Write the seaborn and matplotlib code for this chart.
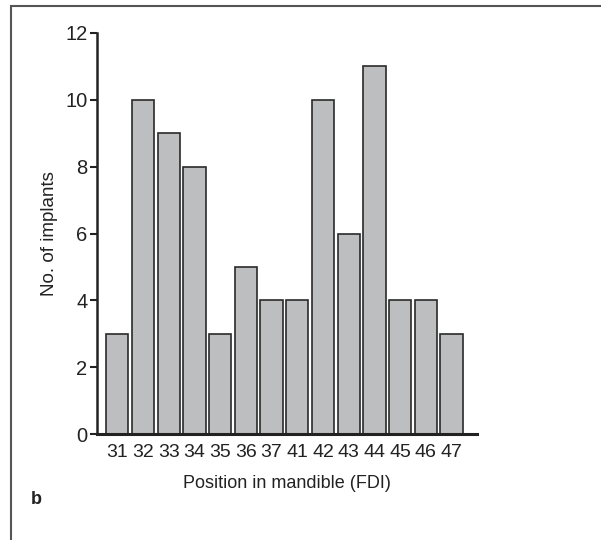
import matplotlib
matplotlib.use("Agg")
import matplotlib.pyplot as plt
import seaborn as sns
import pandas as pd
from matplotlib.patches import Rectangle

positions = ["31", "32", "33", "34", "35", "36", "37", "41", "42", "43", "44", "45", "46", "47"]
implants = [3, 10, 9, 8, 3, 5, 4, 4, 10, 6, 11, 4, 4, 3]
yticks = [0, 2, 4, 6, 8, 10, 12]

sns.set_theme(style="ticks")
plt.rcParams['font.family'] = ['Liberation Sans', 'DejaVu Sans']

df = pd.DataFrame({"pos": positions, "n": implants})

W, H = 601, 540
fig = plt.figure(figsize=(W / 100, H / 100), dpi=100)
ax = fig.add_axes([97 / W, 1 - 434 / H, (477 - 97) / W, (434 - 33) / H])

sns.barplot(data=df, x="pos", y="n", order=positions, color="#bdbec0",
            saturation=1, width=0.87, edgecolor="#2a2a2a", linewidth=1.2, ax=ax)

ax.set_xlim(-0.79, 13.99)
ax.set_ylim(0, 12)
ax.set_yticks(yticks)
ax.set_yticklabels([str(t) for t in yticks], fontsize=14.5, color="#222222")
ax.tick_params(axis="y", length=5, width=1.5, color="#222222", pad=2)
ax.tick_params(axis="x", length=0, pad=7, labelsize=14, labelcolor="#222222")
for s in ["top", "right"]:
    ax.spines[s].set_visible(False)
ax.spines["left"].set_linewidth(1.8)
ax.spines["bottom"].set_linewidth(2.2)
ax.spines["left"].set_color("#222222")
ax.spines["bottom"].set_color("#222222")
ax.set_xlabel("Position in mandible (FDI)", fontsize=13, color="#222222", labelpad=10)
ax.set_ylabel("No. of implants", fontsize=13.5, color="#222222", labelpad=5)

fig.text(31 / W, 1 - 500 / H, "b", fontsize=13, fontweight="bold", color="#222222",
         ha="left", va="center")

fig.patches.append(Rectangle((11 / W, -0.05), 1.0, 1 - 6 / H + 0.05, transform=fig.transFigure,
                             fill=False, edgecolor="#555555", linewidth=1.5))

fig.savefig("out.png", dpi=100)
